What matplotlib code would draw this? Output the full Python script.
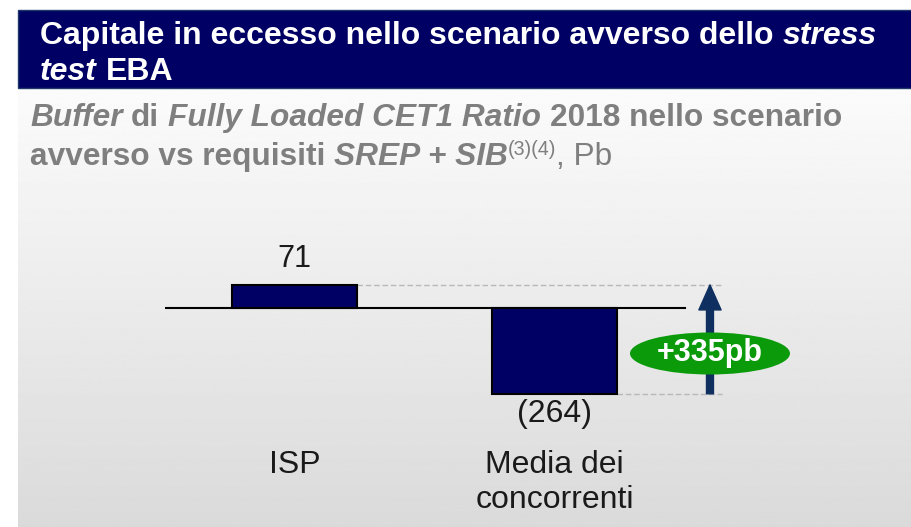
import numpy as np
import matplotlib
matplotlib.use("Agg")
import matplotlib.pyplot as plt
from matplotlib.patches import Rectangle, Ellipse
import matplotlib.transforms as mtransforms

plt.rcParams['font.family'] = ['Liberation Sans', 'DejaVu Sans']

categories = ["ISP", "Media dei\nconcorrenti"]
values = [71, -264]
value_labels = ["71", "(264)"]
gap_label = "+335pb"

navy = "#000064"
grey_txt = "#7f7f7f"

fig = plt.figure(figsize=(9.12, 5.27), dpi=100)

# background axes in pixel units (y downwards)
bg = fig.add_axes([0, 0, 1, 1])
bg.set_xlim(0, 912)
bg.set_ylim(527, 0)
bg.axis("off")
grad = np.linspace(0.985, 0.855, 256).reshape(-1, 1)
bg.imshow(grad, cmap="gray", vmin=0, vmax=1, aspect="auto",
          extent=[18, 912, 527, 88], zorder=0)
bg.add_patch(Rectangle((18, 10), 900, 78, facecolor=navy,
                       edgecolor="#1f3a6a", lw=1, zorder=1))

renderer = fig.canvas.get_renderer()


def space_w(size, weight):
    a = bg.text(0, 0, "a a", fontsize=size, weight=weight)
    b = bg.text(0, 0, "aa", fontsize=size, weight=weight)
    w = a.get_window_extent(renderer).width - b.get_window_extent(renderer).width
    a.remove()
    b.remove()
    return w


def runs(x, y, parts, size, color):
    # parts: (text, weight, style, dy, scale)
    for s, weight, style, dy, sc in parts:
        lead = len(s) - len(s.lstrip(" "))
        trail = len(s) - len(s.rstrip(" "))
        x += lead * space_w(size * sc, weight)
        body = s.strip(" ")
        t = bg.text(x, y + dy, body, fontsize=size * sc, weight=weight,
                    style=style, color=color, va="baseline", zorder=3)
        x += t.get_window_extent(renderer).width
        x += trail * space_w(size * sc, weight)


runs(40, 44, [("Capitale in eccesso nello scenario avverso dello ", "bold", "normal", 0, 1),
              ("stress", "bold", "italic", 0, 1)], 23, "white")
runs(40, 80, [("test", "bold", "italic", 0, 1),
              (" EBA", "bold", "normal", 0, 1)], 23, "white")

runs(30, 126, [("Buffer", "bold", "italic", 0, 1),
               (" di ", "bold", "normal", 0, 1),
               ("Fully Loaded CET1 Ratio", "bold", "italic", 0, 1),
               (" 2018 nello scenario", "bold", "normal", 0, 1)], 22.8, grey_txt)
runs(30, 165, [("avverso vs requisiti ", "bold", "normal", 0, 1),
               ("SREP + SIB", "bold", "italic", 0, 1),
               ("(3)(4)", "normal", "normal", -10, 0.62),
               (", Pb", "normal", "normal", 0, 1)], 22.8, grey_txt)

# chart axes
s = 0.325  # px per bp
ax = fig.add_axes([165 / 912, (527 - 420) / 527, (800 - 165) / 912, 190 / 527])
ax.patch.set_alpha(0)
ax.axis("off")
ax.set_xlim(-129.5 / 260, (800 - 294.5) / 260)
ax.set_ylim(-112 / s, 78 / s)

x = np.arange(len(categories))
w = 0.477
ax.bar(x, values, width=w, color=navy, edgecolor="black", lw=1.5, zorder=3)
ax.axhline(0, xmin=0, xmax=(685 - 165) / (800 - 165), color="black", lw=1.5, zorder=2)

x_arrow = 1.598
x_dash = 1.644
ax.hlines([values[0]], x[0] + w / 2, x_dash, colors="#b8b8b8", lw=1, ls=(0, (4, 2)), zorder=1)
ax.hlines([values[1]], x[1] + w / 2, x_dash, colors="#b8b8b8", lw=1, ls=(0, (4, 2)), zorder=1)

ax.annotate("", xy=(x_arrow, values[0]), xytext=(x_arrow, values[1]),
            arrowprops=dict(width=5, headwidth=16, headlength=18, shrink=0,
                            facecolor="#0e2f5f", edgecolor="#0e2f5f"), zorder=4)

ycen = -140
ax.add_patch(Ellipse((x_arrow, ycen), 160 / 260, 42 / s, facecolor="#0a9a0a",
                     edgecolor="none", zorder=5))
ax.text(x_arrow, ycen, gap_label, ha="center", va="center", color="white",
        fontsize=22, weight="bold", zorder=6)

ax.annotate(value_labels[0], (x[0], values[0]), xytext=(0, 8), textcoords="offset points",
            ha="center", va="bottom", fontsize=22, color="#1a1a1a")
ax.annotate(value_labels[1], (x[1], values[1]), xytext=(0, -4), textcoords="offset points",
            ha="center", va="top", fontsize=23, color="#1a1a1a")

tr = mtransforms.blended_transform_factory(ax.transData, bg.transData)
for xi, lab in zip(x, categories):
    ax.text(xi, 450, lab, transform=tr, ha="center", va="top", fontsize=23,
            color="#1a1a1a", linespacing=1.2)

fig.savefig("out.png", dpi=100)
